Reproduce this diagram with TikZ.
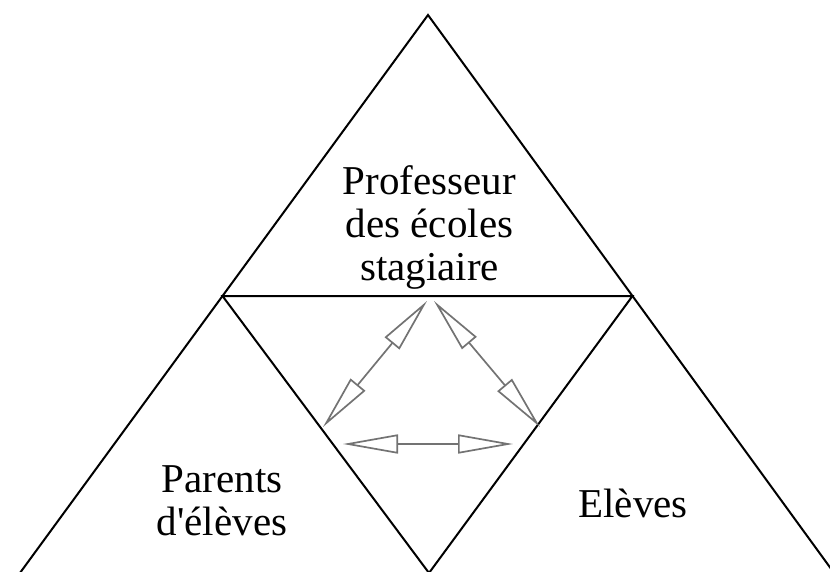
\documentclass[tikz,border=0pt]{standalone}
\usepackage{fontspec}
\setmainfont{Liberation Serif}
\usetikzlibrary{arrows.meta}
\begin{document}
\begin{tikzpicture}[x=1pt,y=-1pt,
  edge/.style={black,line width=2pt},
  link/.style={draw=black!55,line width=1.7pt,
    {Triangle[open,length=55pt,width=19pt]}-{Triangle[open,length=55pt,width=19pt]}},
  label/.style={font=\fontsize{41}{43}\selectfont,align=center,inner sep=0pt,anchor=base}]
\useasboundingbox (0,0) rectangle (830,572);
\clip (0,0) rectangle (830,572);
% outer triangle
\coordinate (A) at (428,15);
\coordinate (B) at (17,577);
\coordinate (C) at (837,577);
\coordinate (AB) at (222.5,296);
\coordinate (AC) at (632.5,296);
\coordinate (BC) at (429,573);
\draw[edge] (B) -- (A) -- (C);
\draw[edge] (AB) -- (AC) -- (BC) -- cycle;
% labels
\node[label] (prof) at (429.5,280) {Professeur\\des écoles\\stagiaire};
\node[label] (par) at (222,535) {Parents\\d\textquotesingle élèves};
\node[label] (ele) at (633,517) {Elèves};
% arrows
\coordinate (t1) at (427,301);
\coordinate (t2) at (434,301);
\coordinate (l1) at (323,427);
\coordinate (r1) at (540,427);
\coordinate (l2) at (343,444);
\coordinate (r2) at (513,444);
\draw[link] (t1) -- (l1);
\draw[link] (t2) -- (r1);
\draw[link] (l2) -- (r2);
\end{tikzpicture}
\end{document}
